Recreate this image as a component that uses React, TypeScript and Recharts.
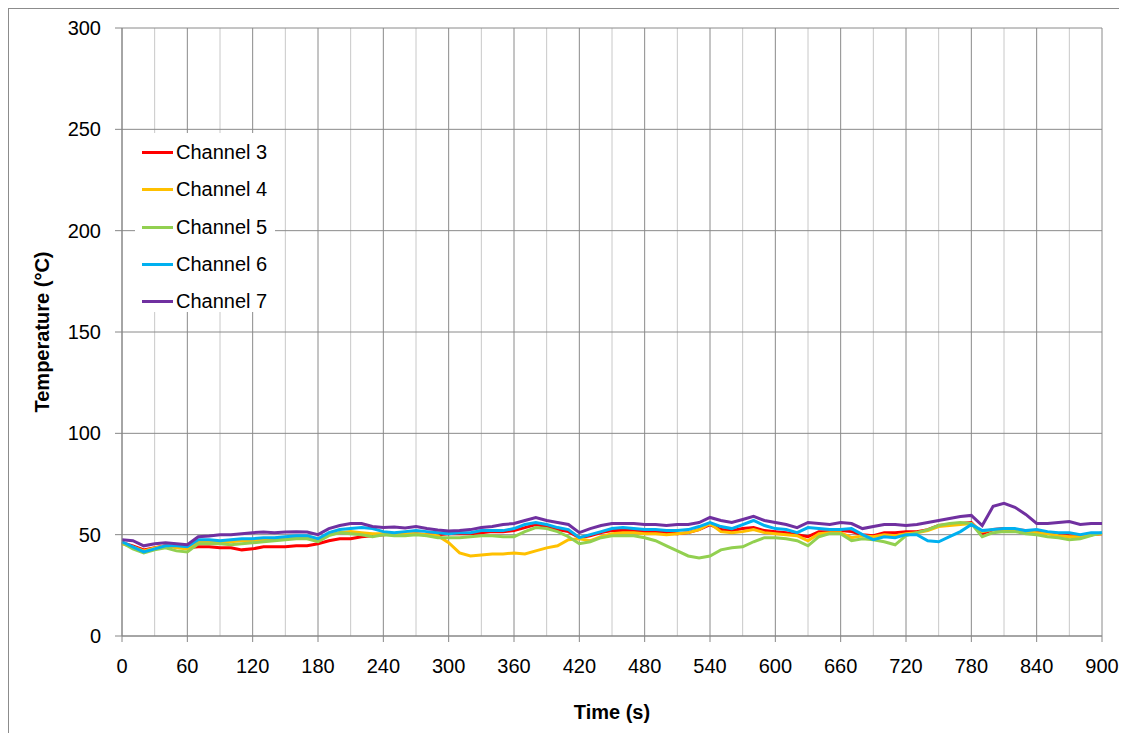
import { LineChart, Line, XAxis, YAxis, CartesianGrid, Legend } from "recharts";

// samples every 10 s, 0..900
const TIME_STEP = 10;

const CH3: number[] = [
  46, 44.5, 42.5, 43.5, 44.5, 44, 43.5, 44, 44, 43.5,
  43.5, 42.5, 43, 44, 44, 44, 44.5, 44.5, 45.5, 47,
  48, 48, 49, 49.5, 50, 50.5, 50, 50.5, 50, 50,
  50.5, 50.5, 50.5, 51, 51.5, 51.5, 52, 53.5, 55, 54,
  52.5, 51.5, 48.5, 49.5, 51, 52, 52, 52, 51.5, 51.5,
  51, 50.5, 51, 52.5, 55, 52.5, 52, 53, 53.5, 52,
  51.5, 51, 50, 49, 51.5, 51.5, 52, 51.5, 50, 49.5,
  51, 51, 51.5, 51.5, 52.5, 54.5, 55, 55.5, 56, 50.5,
  52.5, 53, 52.5, 52, 51.5, 51, 50.5, 49.5, 49, 50, 50.5,
];

const CH4: number[] = [
  45.5, 44, 42, 43.5, 44.5, 43.5, 43, 46.5, 46.5, 46.5,
  46.5, 47, 47, 47.5, 47.5, 48, 48.5, 48.5, 47, 50,
  51, 51.5, 51, 50.5, 50.5, 50, 50.5, 50.5, 50, 49.5,
  46, 41, 39.5, 40, 40.5, 40.5, 41, 40.5, 42, 43.5,
  44.5, 47.5, 48, 47, 49, 50.5, 51, 51, 50.5, 50.5,
  50, 50.5, 51, 52.5, 55.5, 51.5, 51, 51.5, 52.5, 51,
  50.5, 50, 49.5, 47, 50.5, 51, 51, 48.5, 49.5, 49,
  50, 49.5, 50.5, 51, 52, 54, 54.5, 55, 55.5, 51.5,
  52.5, 52.5, 52, 51.5, 51, 50.5, 49.5, 49, 49, 50, 50.5,
];

const CH5: number[] = [
  46, 43, 41, 42.5, 43.5, 42, 41.5, 45.5, 45.5, 45.5,
  45, 45.5, 46, 46.5, 47, 47.5, 48, 48, 46.5, 49.5,
  51, 50.5, 50, 49, 50, 49.5, 49.5, 50, 49.5, 48.5,
  48.5, 48.5, 49, 49.5, 49.5, 49, 49, 51.5, 53.5, 53,
  51.5, 49, 45.5, 46.5, 48.5, 49.5, 49.5, 49.5, 48.5, 47,
  44.5, 42, 39.5, 38.5, 39.5, 42.5, 43.5, 44, 46.5, 48.5,
  48.5, 48, 47, 44.5, 49, 50.5, 50.5, 47, 48, 47.5,
  46.5, 45, 49.5, 51, 52.5, 54.5, 55.5, 56, 55.5, 49,
  51, 51.5, 51.5, 50.5, 50, 49, 48.5, 47.5, 48, 49.5, 51,
];

const CH6: number[] = [
  46.5, 44, 41.5, 43, 44.5, 44.5, 44, 47.5, 47.5, 47,
  47.5, 48, 48, 48.5, 48.5, 49, 49.5, 49.5, 48, 51,
  52.5, 53, 53.5, 53, 51.5, 51, 51.5, 52, 51.5, 51,
  50.5, 51, 51, 52, 52, 52, 53, 55, 56, 55,
  53.5, 52.5, 48.5, 50, 51.5, 53, 53.5, 53, 52.5, 52.5,
  52, 52, 52.5, 54, 56, 54, 53, 55, 57, 54.5,
  53, 52.5, 51, 53.5, 53, 52.5, 52.5, 53, 50, 47.5,
  49, 48.5, 50, 50, 47, 46.5, 49, 51.5, 55, 52,
  52.5, 53, 53, 52, 52.5, 51.5, 51, 51, 50, 51, 51,
];

const CH7: number[] = [
  47.5, 47, 44.5, 45.5, 46, 45.5, 45, 49, 49.3, 50,
  50, 50.5, 51, 51.3, 51, 51.3, 51.5, 51.3, 50, 53,
  54.5, 55.5, 55.5, 54, 53.5, 53.8, 53.3, 54, 53, 52.3,
  51.8, 52, 52.5, 53.5, 54, 55, 55.5, 57, 58.5, 57,
  56, 55, 51, 53, 54.5, 55.5, 55.5, 55.5, 55, 55,
  54.5, 55, 55, 56, 58.5, 57, 56, 57.5, 59, 57,
  56, 55, 53.5, 56, 55.5, 55, 56, 55.5, 53, 54,
  55, 55, 54.5, 55, 56, 57, 58, 59, 59.5, 54.5,
  64, 65.5, 63.5, 60, 55.5, 55.5, 56, 56.5, 55, 55.5, 55.5,
];

const SERIES = [
  { key: "ch3", name: "Channel 3", color: "#FF0000", values: CH3 },
  { key: "ch4", name: "Channel 4", color: "#FFC000", values: CH4 },
  { key: "ch5", name: "Channel 5", color: "#92D050", values: CH5 },
  { key: "ch6", name: "Channel 6", color: "#00B0F0", values: CH6 },
  { key: "ch7", name: "Channel 7", color: "#7030A0", values: CH7 },
];

const X_TICKS = [0, 60, 120, 180, 240, 300, 360, 420, 480, 540, 600, 660, 720, 780, 840, 900];
const X_MINOR = [30, 90, 150, 210, 270, 330, 390, 450, 510, 570, 630, 690, 750, 810, 870];
const Y_TICKS = [0, 50, 100, 150, 200, 250, 300];

const data = CH3.map((_, i) => {
  const row: Record<string, number> = { t: i * TIME_STEP };
  SERIES.forEach((s) => (row[s.key] = s.values[i]));
  return row;
});

const FONT = "'Liberation Sans', Arial, sans-serif";
const tickStyle = { fill: "#000", fontSize: 20, fontFamily: FONT };

const LegendBox = () => (
  <div
    style={{
      background: "#fff",
      width: 140,
      height: 179,
      paddingTop: 1,
      boxSizing: "border-box",
      fontFamily: FONT,
      fontSize: 20,
      color: "#000",
    }}
  >
    {SERIES.map((s) => (
      <div key={s.key} style={{ height: 37.3, display: "flex", alignItems: "center" }}>
        <span
          style={{
            display: "inline-block",
            width: 31,
            height: 3,
            marginLeft: 7,
            marginRight: 3,
            background: s.color,
          }}
        />
        <span>{s.name}</span>
      </div>
    ))}
  </div>
);

const App = () => {
  return (
    <div
      style={{
        position: "relative",
        width: 1118,
        height: 724,
        marginRight: -8,
        borderTop: "1px solid #8c8c8c",
        borderLeft: "1px solid #8c8c8c",
        fontFamily: FONT,
      }}
    >
      <LineChart
        width={1116}
        height={720}
        data={data}
        margin={{ top: 19, right: 23, bottom: 53, left: 53 }}
      >
        <CartesianGrid
          horizontal={false}
          verticalValues={X_MINOR}
          stroke="#c8c8c8"
          strokeWidth={1}
        />
        <CartesianGrid
          verticalValues={X_TICKS}
          horizontalValues={Y_TICKS}
          stroke="#8a8a8a"
          strokeWidth={1}
        />
        <XAxis
          dataKey="t"
          type="number"
          domain={[0, 900]}
          ticks={X_TICKS}
          interval={0}
          height={40}
          tickSize={6}
          tickMargin={17}
          tick={tickStyle}
          axisLine={{ stroke: "#868686" }}
          tickLine={{ stroke: "#868686" }}
        />
        <YAxis
          type="number"
          domain={[0, 300]}
          ticks={Y_TICKS}
          interval={0}
          width={60}
          tickSize={7}
          tickMargin={14}
          tick={tickStyle}
          axisLine={{ stroke: "#868686" }}
          tickLine={{ stroke: "#868686" }}
        />
        {SERIES.map((s) => (
          <Line
            key={s.key}
            type="linear"
            dataKey={s.key}
            name={s.name}
            stroke={s.color}
            strokeWidth={3}
            dot={false}
            isAnimationActive={false}
          />
        ))}
        <Legend
          layout="vertical"
          align="center"
          verticalAlign="middle"
          content={() => <LegendBox />}
          wrapperStyle={{ left: 126, top: 124, width: 140, height: 179 }}
        />
      </LineChart>
      <div
        style={{
          position: "absolute",
          left: 33,
          top: 323,
          transform: "translate(-50%, -50%) rotate(-90deg)",
          fontWeight: "bold",
          fontSize: 20,
          whiteSpace: "nowrap",
        }}
      >
        Temperature (°C)
      </div>
      <div
        style={{
          position: "absolute",
          left: 603,
          top: 703,
          transform: "translate(-50%, -50%)",
          fontWeight: "bold",
          fontSize: 20,
          whiteSpace: "nowrap",
        }}
      >
        Time (s)
      </div>
    </div>
  );
};

export default App;
